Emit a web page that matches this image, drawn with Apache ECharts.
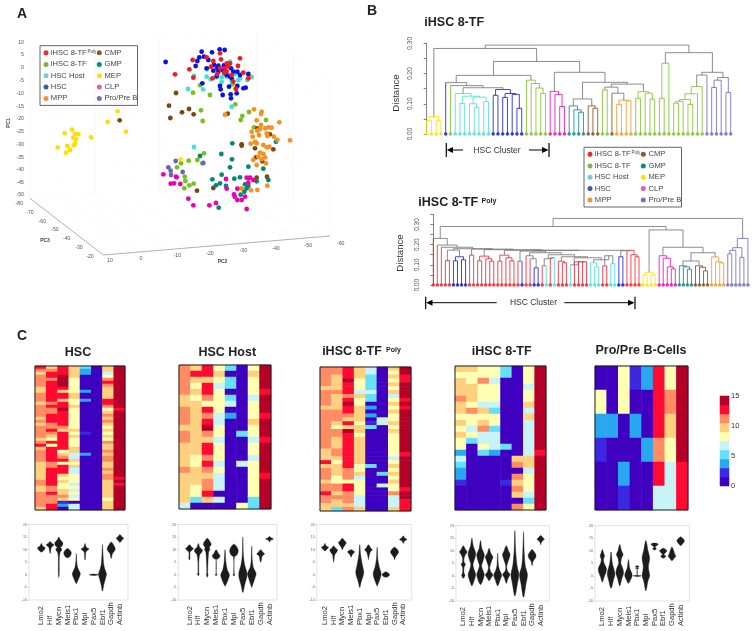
<!DOCTYPE html>
<html>
<head>
<meta charset="utf-8">
<style>
html, body { margin: 0; background: #fff; }
#chart { width: 756px; height: 631px; }
</style>
<script src="https://cdn.jsdelivr.net/npm/echarts@6/dist/echarts.min.js"></script>
</head>
<body>
<div id="chart"></div>
<script>
const FONT = '"Liberation Sans", Arial, sans-serif';

// cell types, same order everywhere
const typeNames = ['iHSC 8-TF', 'iHSC 8-TF', 'HSC Host', 'HSC', 'MPP', 'CMP', 'GMP', 'MEP', 'CLP', 'Pro/Pre B'];
const legendColors = ['#ee2a2c', '#7ab648', '#6fd0cc', '#3a5bb0', '#f29433', '#8a5a35', '#009080', '#ffe000', '#e060a8', '#7e6cb8'];
const markColors = ['#f01c24', '#78c020', '#40e0d8', '#0a14d8', '#f89020', '#7c4810', '#008878', '#ffe000', '#ec00b0', '#7060c0'];
const TREE_GRAY = '#707070';

// panel A, points as read on the projected picture plane
const pcaPoly = [[525,223],[578,180],[568,208],[580,233],[620,172],[660,160],[663,178],[640,183],[633,200],[680,190],[685,198],[720,175],[714,198],[672,218],[680,215],[695,225],[730,218],[638,235],[708,267],[745,235],[675,205],[660,205],[690,190],[652,222],[700,245]];
const pcaTf = [[600,256],[579,278],[630,285],[603,331],[608,363],[706,313],[747,336],[727,348],[722,360],[798,360],[762,382],[612,460],[592,480],[607,490],[566,482],[543,490],[531,502],[554,530],[556,543],[553,565],[568,556],[581,551],[697,253]];
const pcaHost = [[564,267],[609,268],[582,228],[620,230],[632,238],[650,232],[665,232],[680,230],[695,243],[705,222],[720,235],[755,231],[742,240],[690,185],[620,208],[695,320],[582,441],[665,246],[715,240],[672,225]];
const pcaHsc = [[497,186],[605,155],[636,157],[659,148],[674,150],[587,198],[592,183],[598,172],[612,170],[625,180],[655,197],[642,195],[652,205],[620,205],[640,212],[655,215],[668,210],[650,228],[672,196],[693,205],[745,222],[720,225],[690,230],[712,215],[607,250],[660,258],[662,268],[687,260],[712,258],[695,235],[668,285],[692,283],[693,295],[710,280],[737,263],[730,265],[700,215],[680,225]];
const pcaMpp = [[762,328],[785,335],[783,342],[770,361],[838,367],[870,421],[755,395],[783,375],[795,385],[815,383],[805,382],[780,387],[772,392],[758,410],[777,405],[800,400],[802,408],[822,410],[832,420],[808,440],[800,442],[790,435],[770,430],[752,431],[765,426],[780,458],[790,462],[775,470],[795,472],[760,480],[770,495],[785,478],[798,490],[675,344],[753,571],[772,570],[802,557],[725,565],[707,265],[747,232]];
const pcaCmp = [[528,279],[507,317],[511,354],[546,337],[567,327],[581,343],[359,361],[683,341],[772,385],[810,403],[725,437],[725,433],[765,445],[820,448],[768,472],[787,484],[770,533],[801,530],[640,564],[591,572]];
const pcaGmp = [[697,430],[664,462],[600,468],[696,478],[690,502],[745,500],[790,506],[828,425],[665,524],[637,538],[703,536],[720,532],[770,544],[805,540],[648,556],[660,550],[678,558],[735,553],[745,558],[740,565],[733,575],[722,584],[656,623]];
const pcaMep = [[216,389],[194,400],[225,402],[235,403],[220,413],[228,418],[273,412],[225,430],[222,435],[202,438],[173,442],[210,450],[198,458],[353,334],[323,366],[378,395],[542,478],[725,568]];
const pcaClp = [[490,523],[528,530],[512,551],[522,550],[541,552],[530,532],[678,537],[680,566],[712,566],[740,533],[750,533],[760,540],[745,548],[745,535],[702,583],[704,590],[712,600],[725,600],[735,590],[565,596],[580,616],[628,616],[648,609],[740,627]];
const pcaPro = [[505,502],[512,512],[513,525],[527,483],[548,516],[610,489]];
// draw order follows the picture: later sets sit on top
const pcaSets = [[1, pcaTf], [7, pcaMep], [2, pcaHost], [5, pcaCmp], [6, pcaGmp], [4, pcaMpp], [8, pcaClp], [9, pcaPro], [3, pcaHsc], [0, pcaPoly]];

const pc1Ticks = ['10','5','0','-5','-10','-15','-20','-25','-30','-35','-40','-45','-50'];
const pc1TickY = [130,168,205,245,283,322,360,397,437,475,512,552,588];
const pc3Ticks = [['-80',58,612],['-70',90,638],['-60',127,665],['-50',165,690],['-40',200,717],['-30',237,744],['-20',270,771]];
const pc2Ticks = [['10',330,783],['0',423,775],['-10',532,768],['-20',630,760],['-30',730,752],['-40',828,746],['-50',925,738],['-60',1022,732]];

// panel B, leaf types as [type, count] and trees as [height, left, right], a plain number is a leaf
const topLeaves = [[7,4],[3,1],[1,1],[2,8],[3,7],[1,5],[8,4],[6,4],[5,3],[1,2],[5,1],[4,4],[1,15],[9,6]];
const topYellow = [.058,[.045,0,1],[.045,2,3]];
const topHost = [.134,6,[.125,[.101,7,8],[.122,[.10,9,[.088,10,11]],[.107,12,13]]]];
const topHsc = [.147,[.128,14,15],[.134,[.121,16,17],[.131,18,[.085,19,20]]]];
const topGreenA = [.178,21,[.167,22,[.152,23,[.134,24,25]]]];
const topClp = [.141,26,[.131,27,[.091,28,29]]];
const topGmp = [.093,30,[.08,31,[.072,32,33]]];
const topCmp = [.093,34,[.085,35,36]];
const topMpp = [.135,39,[.112,[.098,40,41],[.11,42,43]]];
const topGreenB = [.14,[.118,44,45],[.135,46,[.115,47,48]]];
const topGreenC = [.234,[.118,49,50],51];
const topGreenD = [.157,[.133,[.114,[.108,[.102,52,53],54],[.098,55,56]],57],58];
const topPro = [.187,[.178,[.154,60,61],62],[.137,63,64]];
const topTree = [.294,
    [.283, topYellow,
        [.24,
            [.194, [.17,4,[.16,5,[.153,topHost,topHsc]]], topGreenA],
            [.204, topClp, [.171, [.116,topGmp,topCmp], [.165,[.155,[.146,37,38],topMpp],topGreenB]]]
        ]
    ],
    [.269, topGreenC, [.204, [.195,topGreenD,59], topPro]]
];

const botLeaves = [[0,5],[3,4],[0,13],[3,1],[0,2],[3,2],[0,1],[2,1],[0,1],[2,1],[0,3],[2,1],[0,4],[2,3],[0,2],[2,2],[3,2],[0,4],[7,4],[8,5],[6,4],[5,4],[4,4],[9,6]];
const botPro = [.231,[.185,[.172,[.154,73,74],75],[.137,76,77]],78];
const botRight = [.273, [.063,[.05,52,53],[.05,54,55]],
    [.187, [.145,56,[.133,57,[.09,58,[.08,59,60]]]],
        [.16, [.119,[.095,61,[.09,62,[.078,63,64]]],[.095,65,[.088,66,[.07,67,68]]]],
            [.139,69,[.115,70,[.11,71,72]]]]]];
const botTail = [.17,[.14,46,47],[.172,48,[.15,49,[.14,50,51]]]];
const botA = [.135,[.10,34,[.115,35,[.115,36,[.115,37,38]]]],[.125,[.11,39,[.09,40,41]],[.145,[.095,42,43],[.105,44,45]]]];
const botB = [.15,[.13,[.095,27,28],[.135,29,30]],[.14,[.118,31,[.11,32,33]],botA]];
const botC = [.16,[.145,23,[.13,24,[.085,25,26]]],botB];
const botE = [.172,[.168,[.118,21,22],botC],botTail];
const botG = [.175,[.143,[.12,11,12],[.13,13,[.118,14,15]]],[.172,[.148,[.118,16,17],[.135,18,[.12,19,20]]],botE]];
const botI = [.18,[.173,[.122,3,4],[.14,[.12,5,6],[.125,7,8]]],[.178,[.148,9,10],botG]];
const botTree = [.33,[.29,[.231,0,[.198,1,[.187,2,botI]]],botRight],botPro];

// panel C, one string per gene, rows top to bottom, each digit is a colour band of the 0-15 scale
const genes = ['Lmo2','Hlf','Mycn','Meis1','Pbx1','Mpl','Pax5','Ebf1','Gapdh','Actinb'];
const levelColors = ['#4000c0','#3c28e0','#28a8f0','#66e0f8','#c8f4f8','#ffffb4','#ffd080','#ff8c64','#ff0a32','#b40028'];
const hscLevels = [
    '8767777667 7767777676 7777678677 7766666677 66777776',
    '6788788888 8878778887 7876585888 8877888888 77877788',
    '8889999868 8688988888 7688888856 7858886565 56676120',
    '6666555556 6556555555 5656555664 4656445554 54545044',
    '3220000020 0200000000 0010000002 0000000000 00000000',
    '0000000000 0000000000 0000000000 0000000000 00000000',
    '6645787666 6887567676 5656576676 7766767766 66665666',
    '9999999999 9999899999 9999999999 9999999898 99999999'];
const hostLevels = [
    '77777 66777 67766 66766 6664',
    '68656 56666 66666 55666 5530',
    '88688 75878 97688 78767 7860',
    '56545 55544 55455 54544 4040',
    '30330 34020 00000 00000 0000',
    '00000 00000 03000 04000 0005',
    '56555 45556 55455 45555 5533',
    '99998 99989 99899 99989 9999'];
const polyLevels = [
    '77777 67777 67777 77777 76668 67776 77877 66',
    '77666 67666 67776 57766 67765 66655 77676 63',
    '88898 88789 88768 69888 88888 87775 88777 67',
    '66655 54655 66665 66566 66666 55645 55544 46',
    '44333 34330 20201 30000 00000 30000 00000 00',
    '00000 00000 00044 00000 00000 00300 40000 00',
    '65656 56456 56556 56555 55545 65656 55744 46',
    '99889 99989 89999 99999 99899 99999 98998 88'];
const tfLevels = [
    '65666 76656 56552 43221 0000',
    '65566 65755 45300 00000 0000',
    '55755 54656 74453 00000 0000',
    '55455 54355 34442 00000 0000',
    '33000 00000 00030 00001 0000',
    '00000 00000 00000 67076 7607',
    '55545 56464 44444 66455 5435',
    '99999 99999 99998 99999 9999'];
const proLevels = ['052100', '002000', '550021', '102000', '200200', '888784', '576544', '999988'];

const violinHsc = [
    [[12.5,0],[11.5,.1],[11,.35],[10.7,.42],[10,.3],[9.3,.08],[9,0]],
    [[13.2,0],[12.5,.15],[12,.42],[11.5,.3],[11,.1],[9,.02],[8.5,0]],
    [[15,0],[14,.1],[13,.38],[12.5,.45],[11.5,.35],[11,.12],[10.5,.25],[9.8,.28],[9,.1],[7,.03],[0,.02],[-1,0]],
    [[10.5,0],[9.5,.3],[8.7,.42],[8,.35],[7.2,.2],[6.8,0]],
    [[8.5,0],[5,.03],[3,.1],[1.5,.3],[.3,.45],[-1,.3],[-3,.05],[-3.5,0]],
    [[12.5,0],[11,.1],[10.3,.42],[9.5,.15],[9,.05],[6,.01],[6,0]],
    [[.3,0],[0,.5],[-.3,0]],
    [[12,0],[8,.03],[4,.1],[2,.25],[.3,.45],[-1.5,.3],[-4,.1],[-6.5,0]],
    [[13,0],[12,.2],[10.5,.45],[9.5,.35],[8.5,.1],[6.5,0]],
    [[16,0],[15.2,.15],[14.5,.4],[13.8,.2],[13,.03],[12.8,0]]];
const violinHost = [
    [[12,0],[11,.2],[10.5,.42],[9.7,.2],[9,.03],[6.2,.03],[6,0]],
    [[12.5,0],[11,.1],[10,.42],[9,.35],[8,.1],[5,.02],[4,.02],[1,.02],[0,.05],[-.3,0]],
    [[14.5,0],[13,.3],[12,.42],[11,.2],[10,.25],[9,.1],[1,.02],[0,.05],[-1,0]],
    [[10,0],[8.5,.2],[7.5,.42],[6.5,.2],[6,.005],[.3,.005],[0,.08],[-.3,0]],
    [[10,0],[5,.06],[2,.2],[0,.48],[-2,.3],[-4,.05],[-4.5,0]],
    [[12.2,0],[11,.3],[9.5,.48],[8,.3],[7,.02],[.5,.01],[0,.06],[-.5,0]],
    [[15,0],[8,.03],[4,.15],[1,.42],[-1,.42],[-4,.15],[-7,0]],
    [[11.5,0],[6,.03],[3,.12],[.5,.48],[-1.5,.3],[-4,.06],[-5,0]],
    [[10,0],[9,.2],[8.3,.42],[7.5,.12],[6,.05],[5,0]],
    [[15.2,0],[14.8,.1],[14.2,.42],[13.8,.1],[13,0]]];
const violinPoly = [
    [[12.5,0],[11.5,.1],[11,.4],[10.3,.2],[9.5,0]],
    [[11.5,0],[10.5,.2],[10,.42],[9,.3],[8,.08],[6,.02],[5,0]],
    [[14.5,0],[13.5,.2],[12.8,.42],[12,.3],[11,.08],[10,0]],
    [[10,0],[9.3,.35],[8.8,.3],[8,.08],[7,0]],
    [[12,0],[8,.06],[4,.25],[1,.45],[-1,.3],[-3,.1],[-5,0]],
    [[12,0],[10.7,.2],[10,.42],[9,.15],[7,.02],[6,0]],
    [[11,0],[6,.05],[3,.2],[.5,.45],[-1.5,.3],[-4,.03],[-4.5,0]],
    [[1.2,0],[.5,.3],[0,.4],[-.5,.3],[-1,0]],
    [[11,0],[10,.3],[9,.45],[8,.25],[7,.05],[6,0]],
    [[15.5,0],[14.7,.1],[14,.4],[13.4,.1],[12.5,0]]];
const violinTf = [
    [[12,0],[10.5,.2],[9.5,.42],[8.5,.2],[7,.05],[5.5,.05],[4.5,.2],[3.5,.05],[1,.05],[.3,.15],[-1,0]],
    [[15,0],[12,.1],[9,.42],[7,.3],[4.5,.08],[2.5,.2],[.5,.42],[-2,.2],[-4,0]],
    [[14,0],[11,.1],[8.5,.42],[6.5,.3],[4,.08],[2,.25],[.5,.42],[-2,.2],[-3.5,0]],
    [[11,0],[9,.15],[7.5,.42],[6,.25],[3.5,.04],[1.5,.15],[.5,.42],[-1,.15],[-2,0]],
    [[9,0],[4,.05],[2,.2],[.3,.45],[-1.5,.25],[-4,0]],
    [[12,0],[10,.2],[8.5,.42],[7,.3],[4,.03],[2,.08],[.5,.4],[-1,.15],[-3,0]],
    [[18,0],[10,.05],[4,.2],[.5,.45],[-3,.25],[-8,0]],
    [[17.5,0],[10,.04],[4,.15],[.5,.45],[-3,.25],[-8.5,0]],
    [[10.5,0],[9.5,.2],[8.5,.42],[7.5,.42],[6.5,.2],[5.5,.05],[4,0]],
    [[16,0],[15,.25],[14.5,.42],[14,.2],[13,.02],[12.3,0]]];
const violinPro = [
    [[10.5,0],[9,.1],[8,.2],[6.5,.08],[5,.15],[3,.45],[1.5,.4],[-.5,.15],[-2.5,0]],
    [[9.5,0],[5,.1],[2,.35],[.5,.42],[-1.5,.25],[-5,0]],
    [[12.5,0],[10,.15],[8.5,.35],[7,.15],[5,.08],[3,.3],[1,.42],[-1,.2],[-4,0]],
    [[6.5,0],[3,.1],[1,.35],[0,.4],[-1.5,.2],[-3,0]],
    [[4,0],[3.7,.15],[3.3,.01],[3,.15],[2.8,.01],[.3,.005],[.1,.4],[-.1,.4],[-.3,0]],
    [[14,0],[10,.2],[7,.42],[4,.25],[2,.3],[0,.42],[-2,.2],[-6,0]],
    [[13,0],[12.6,.4],[12,.2],[11.5,.03],[10.8,.15],[10.3,0]],
    [[11,0],[10,.4],[9.5,.3],[8.5,.05],[7.8,.25],[7,0]],
    [[11.5,0],[10,.15],[8.5,.3],[7.8,.42],[7,.2],[6,0]],
    [[15.5,0],[14.8,.2],[14,.42],[13,.25],[12,0]]];

const grids = [], xAxes = [], yAxes = [], series = [], graphics = [];
const hidden = { show: false };

function addGrid(left, top, width, height, xAxis, yAxis) {
    const gridIndex = grids.length;
    grids.push({ left, top, width, height });
    xAxes.push(Object.assign({ gridIndex }, xAxis));
    yAxes.push(Object.assign({ gridIndex }, yAxis));
    return gridIndex;
}

function text(x, y, str, font, fill, align, rotation) {
    graphics.push({
        type: 'text', x, y, rotation: rotation || 0, z: 20, silent: true,
        style: { text: str, font: font + ' ' + FONT, fill: fill || '#222', textAlign: align || 'left', textVerticalAlign: 'middle' }
    });
}
function line(x1, y1, x2, y2, stroke, width) {
    graphics.push({ type: 'line', z: 20, silent: true, shape: { x1, y1, x2, y2 }, style: { stroke: stroke || '#000', lineWidth: width || 1 } });
}
function frame(x1, y1, x2, y2, stroke, width) {
    graphics.push({ type: 'rect', z: 19, silent: true, shape: { x: x1, y: y1, width: x2 - x1, height: y2 - y1 }, style: { fill: 'none', stroke, lineWidth: width || 1 } });
}
function legendBox(x, y) {
    frame(x, y, x + 97.5, y + 59.7, '#666');
    const rowY = [7, 18.7, 30, 41.3, 52.7];
    typeNames.forEach((name, i) => {
        const col = i < 5 ? 0 : 1, row = i % 5;
        graphics.push({ type: 'circle', z: 20, silent: true, shape: { cx: x + (col ? 59.3 : 6), cy: y + rowY[row], r: 2.5 }, style: { fill: legendColors[i] } });
        text(x + (col ? 64.5 : 10.8), y + rowY[row], name, '7.6px', '#444');
    });
    text(x + 47.5, y + 5.7, 'Poly', '4.5px', '#444');
}

// panel A
const gridA = addGrid(0, 0, 370, 320,
    { type: 'value', min: 0, max: 1110, show: false },
    { type: 'value', min: 0, max: 960, inverse: true, show: false });

function segmentSeries(gridIndex, segments, z) {
    return {
        type: 'custom', xAxisIndex: gridIndex, yAxisIndex: gridIndex, z: z || 2, silent: true, clip: false,
        encode: { x: [0, 2], y: [1, 3] },
        data: segments,
        renderItem(params, api) {
            const a = api.coord([api.value(0), api.value(1)]);
            const b = api.coord([api.value(2), api.value(3)]);
            const seg = segments[params.dataIndex];
            return { type: 'line', shape: { x1: a[0], y1: a[1], x2: b[0], y2: b[1] }, style: { stroke: seg[4], lineWidth: seg[5] || 1, lineDash: seg[6] } };
        }
    };
}

const wallDash = [1, 1.5], wallColor = '#e4e4e4';
const wallLines = [];
[[90,130,90,595],[285,122,285,585],[478,110,478,572],[770,95,770,555],[880,165,880,630],[990,240,990,708]].forEach(s => wallLines.push(s.concat([wallColor, .6, wallDash])));
pc1TickY.forEach((yL, i) => {
    const t = i / (pc1TickY.length - 1);
    const yBack = 95 + t * 460, yRight = 240 + t * 468;
    wallLines.push([90, yL, 770, yBack, '#eeeeee', .5, wallDash]);
    wallLines.push([770, yBack, 990, yRight, '#eeeeee', .5, wallDash]);
});
[[90,595,310,765],[310,765,990,708]].forEach(s => wallLines.push(s.concat(['#a8a8a8', .9])));
for (let i = 1; i < 7; i++) {
    const t = i / 7;
    wallLines.push([310 + 680 * t, 765 - 57 * t, 90 + 680 * t, 595 - 40 * t, '#eeeeee', .5, wallDash]);
    wallLines.push([90 + 220 * t, 595 + 170 * t, 770 + 220 * t, 555 + 153 * t, '#eeeeee', .5, wallDash]);
}
series.push(segmentSeries(gridA, wallLines, 1));

pcaSets.forEach(([type, points]) => {
    series.push({
        type: 'scatter', xAxisIndex: gridA, yAxisIndex: gridA, data: points, symbolSize: 4.8, z: 3, silent: true,
        itemStyle: { color: markColors[type], opacity: 1 }
    });
});
text(17, 14, 'A', 'bold 14px');
legendBox(40, 45.7);
pc1Ticks.forEach((t, i) => text(24, pc1TickY[i] / 3 - 1, t, '5.2px', '#555', 'right'));
pc3Ticks.forEach(t => text(t[1] / 3, t[2] / 3, t[0], '5.2px', '#555', 'center'));
pc2Ticks.forEach(t => text(t[1] / 3, t[2] / 3, t[0], '5.2px', '#555', 'center'));
text(9, 123, 'PC1', 'bold 5px', '#444', 'center', Math.PI / 2);
text(45, 240.5, 'PC3', 'bold 5px', '#444', 'center');
text(222.5, 262, 'PC2', 'bold 5px', '#444', 'center');

// panel B
function expandLeaves(runs) {
    const out = [];
    runs.forEach(([type, count]) => { for (let i = 0; i < count; i++) out.push(type); });
    return out;
}
function treeSegments(tree, leafTypes) {
    const segs = [];
    const colorOf = t => t === null ? TREE_GRAY : markColors[t];
    function walk(node) {
        if (typeof node === 'number') return { x: node, h: 0, type: leafTypes[node], leaf: true };
        const a = walk(node[1]), b = walk(node[2]);
        const type = a.type === b.type ? a.type : null;
        // a leaf keeps its own colour up to the join, an inner stem takes the colour of the join
        segs.push([a.x, a.h, a.x, node[0], colorOf(a.leaf ? a.type : type), .8]);
        segs.push([b.x, b.h, b.x, node[0], colorOf(b.leaf ? b.type : type), .8]);
        segs.push([a.x, node[0], b.x, node[0], colorOf(type), .8]);
        return { x: (a.x + b.x) / 2, h: node[0], type, leaf: false };
    }
    walk(tree);
    return segs;
}
function dendrogram(left, top, height, xMin, xMax, spacing, yMax, runs, tree) {
    const leafTypes = expandLeaves(runs);
    const g = addGrid(left, top, (xMax - xMin) * spacing, height,
        { type: 'value', min: xMin, max: xMax, show: false },
        {
            type: 'value', min: 0, max: yMax, interval: .05,
            axisLine: { show: true, lineStyle: { color: '#666', width: .8 } },
            axisTick: { show: true, length: 3, lineStyle: { color: '#666', width: .8 } },
            splitLine: hidden,
            axisLabel: {
                fontSize: 6.5, color: '#555', fontFamily: FONT, rotate: 90, margin: 6,
                formatter: v => Math.round(v * 100) % 10 === 0 && v < .31 ? v.toFixed(2) : ''
            }
        });
    series.push(segmentSeries(g, treeSegments(tree, leafTypes), 2));
    series.push({
        type: 'scatter', xAxisIndex: g, yAxisIndex: g, z: 3, silent: true, clip: false, symbolSize: 3.6,
        data: leafTypes.map((t, i) => ({ value: [i, 0], itemStyle: { color: markColors[t] } }))
    });
}
dendrogram(420, 43.3, 90.7, -1.41, 65, 4.75, .30, topLeaves, topTree);
dendrogram(426.7, 214.4, 70.6, -1.63, 80, 4.05, .35, botLeaves, botTree);

text(367, 11, 'B', 'bold 14px');
text(424.3, 23, 'iHSC 8-TF', 'bold 12.5px');
text(418.3, 203, 'iHSC 8-TF', 'bold 12.5px');
text(481.5, 201, 'Poly', 'bold 7px');
text(396, 93, 'Distance', '9.6px', '#333', 'center', Math.PI / 2);
text(400, 253, 'Distance', '9.6px', '#333', 'center', Math.PI / 2);
legendBox(584, 147.3);

function arrowHead(tipX, baseX, y) {
    graphics.push({ type: 'polygon', z: 20, silent: true, shape: { points: [[tipX, y], [baseX, y - 3], [baseX, y + 3]] }, style: { fill: '#000' } });
}
line(446.3, 143, 446.3, 157, '#000', 1.2);
arrowHead(446.8, 453, 150);
line(450, 150, 463, 150, '#000', 1);
text(497, 151, 'HSC Cluster', '8.5px', '#333', 'center');
line(529, 150, 545, 150, '#000', 1);
arrowHead(548.5, 542, 150);
line(549, 143, 549, 157, '#000', 1.2);

line(425.7, 296.7, 425.7, 309.3, '#000', 1.2);
arrowHead(426.2, 432.5, 302.7);
line(430, 302.7, 496.7, 302.7, '#000', 1);
text(533.5, 303, 'HSC Cluster', '8.5px', '#333', 'center');
line(564.3, 302.7, 632, 302.7, '#000', 1);
arrowHead(634.5, 628, 302.7);
line(635, 296.7, 635, 309.3, '#000', 1.2);

// panel C heatmaps, height 144 gives every row a whole number of pixels
function cols(strings) { return strings.map(s => s.replace(/ /g, '')); }
const heatSeries = [];
function heatmap(left, top, right, columns, titleX, titleY, title) {
    const rows = cols(columns);
    const nRows = rows[0].length;
    const bottom = top + 144;
    const g = addGrid(left, top, right - left, 144,
        { type: 'category', data: rows.map((_, i) => i), show: false },
        { type: 'category', data: Array.from({ length: nRows }, (_, i) => i), inverse: true, show: false });
    const data = [];
    rows.forEach((col, c) => {
        for (let r = 0; r < nRows; r++) {
            const level = +col.charAt(r);
            data.push([c, r, level * 1.5 + .75]);
        }
    });
    heatSeries.push(series.length);
    series.push({ type: 'heatmap', xAxisIndex: g, yAxisIndex: g, data, silent: true, itemStyle: { borderWidth: 0 } });
    frame(left, top, right, bottom, '#1a1a1a', 1);
    if (title) text(titleX, titleY, title, 'bold 12.5px', '#222', 'center');
}
text(17, 336, 'C', 'bold 14px');
heatmap(35, 366, 125, hscLevels, 78, 352.5, 'HSC');
heatmap(179, 365, 271, hostLevels, 227.3, 352.5, 'HSC Host');
heatmap(320, 367, 411, polyLevels, 352, 352, 'iHSC 8-TF');
text(386, 350, 'Poly', 'bold 7px');
heatmap(455, 366, 546, tfLevels, 501.7, 352, 'iHSC 8-TF');
heatmap(595, 366, 688, proLevels, 641, 350.5, 'Pro/Pre B-Cells');

// panel C violins, widths are drawn a bit fuller so the thin spindles read like the original blobs
const VIOLIN_FULLNESS = .75;
function drawnWidth(w) { return .5 * Math.pow(w / .5, VIOLIN_FULLNESS); }
function violinPanel(frameLeft, frameRight, frameTop, frameBottom, gridLeft, band, shapes) {
    const g = addGrid(gridLeft, frameTop, band * genes.length, frameBottom - frameTop,
        {
            type: 'category', data: genes,
            axisLine: hidden, axisTick: hidden,
            axisLabel: { interval: 0, rotate: 90, align: 'left', verticalAlign: 'middle', margin: 25, fontSize: 7.6, color: '#333', fontFamily: FONT, hideOverlap: false }
        },
        {
            type: 'value', min: -10, max: 20, interval: 5, offset: gridLeft - frameLeft,
            axisLine: hidden, splitLine: hidden,
            axisTick: { show: true, length: 1, lineStyle: { color: '#aaa', width: .6 } },
            axisLabel: { fontSize: 3.6, color: '#666', margin: 2, fontFamily: FONT }
        });
    series.push({
        type: 'custom', xAxisIndex: g, yAxisIndex: g, silent: true, z: 3,
        encode: { x: 0, y: 1 },
        data: shapes.map((_, i) => [i, 0]),
        renderItem(params, api) {
            const center = api.coord([api.value(0), 0])[0];
            const width = api.size([1, 0])[0];
            const profile = shapes[params.dataIndex];
            const right = profile.map(p => [center + drawnWidth(p[1]) * width, api.coord([api.value(0), p[0]])[1]]);
            const left = profile.slice(1, -1).reverse().map(p => [center - drawnWidth(p[1]) * width, api.coord([api.value(0), p[0]])[1]]);
            return { type: 'polygon', shape: { points: right.concat(left), smooth: .3 }, style: { fill: '#1c1c1c', stroke: '#1c1c1c', lineWidth: .4 } };
        }
    });
    frame(frameLeft, frameTop, frameRight, frameBottom, '#dcdcdc', .8);
}
violinPanel(29, 128, 524.5, 600, 37, 8.73, violinHsc);
violinPanel(178.3, 277, 524.5, 600, 185, 8.9, violinHost);
violinPanel(316.7, 411.7, 524.5, 600, 320.6, 8.7, violinPoly);
violinPanel(456, 549.3, 525.5, 601, 459, 8.6, violinTf);
violinPanel(595, 689.3, 525.5, 601, 598, 8.7, violinPro);

// colour bar, last grid because it owns a second y axis for the 0-15 labels
const barLevels = levelColors.map((_, i) => i);
const barGrid = addGrid(720, 396, 9, 90,
    { type: 'category', data: [0], show: false },
    { type: 'category', data: barLevels, show: false });
yAxes.push({
    gridIndex: barGrid, type: 'value', min: 0, max: 15, interval: 5, position: 'right',
    axisLine: hidden, axisTick: hidden, splitLine: hidden,
    axisLabel: { fontSize: 7.5, color: '#333', margin: 2, fontFamily: FONT }
});
heatSeries.push(series.length);
series.push({
    type: 'heatmap', xAxisIndex: barGrid, yAxisIndex: barGrid, silent: true, itemStyle: { borderWidth: 0 },
    data: barLevels.map(l => [0, l, l * 1.5 + .75])
});

const chart = echarts.init(document.getElementById('chart'), null, { renderer: 'canvas' });
chart.setOption({
    animation: false,
    backgroundColor: '#fff',
    grid: grids,
    xAxis: xAxes,
    yAxis: yAxes,
    visualMap: {
        type: 'piecewise', show: false, seriesIndex: heatSeries, dimension: 2,
        pieces: levelColors.map((color, i) => ({ min: i * 1.5, max: (i + 1) * 1.5, color }))
    },
    graphic: { elements: graphics },
    series
});
</script>
</body>
</html>
